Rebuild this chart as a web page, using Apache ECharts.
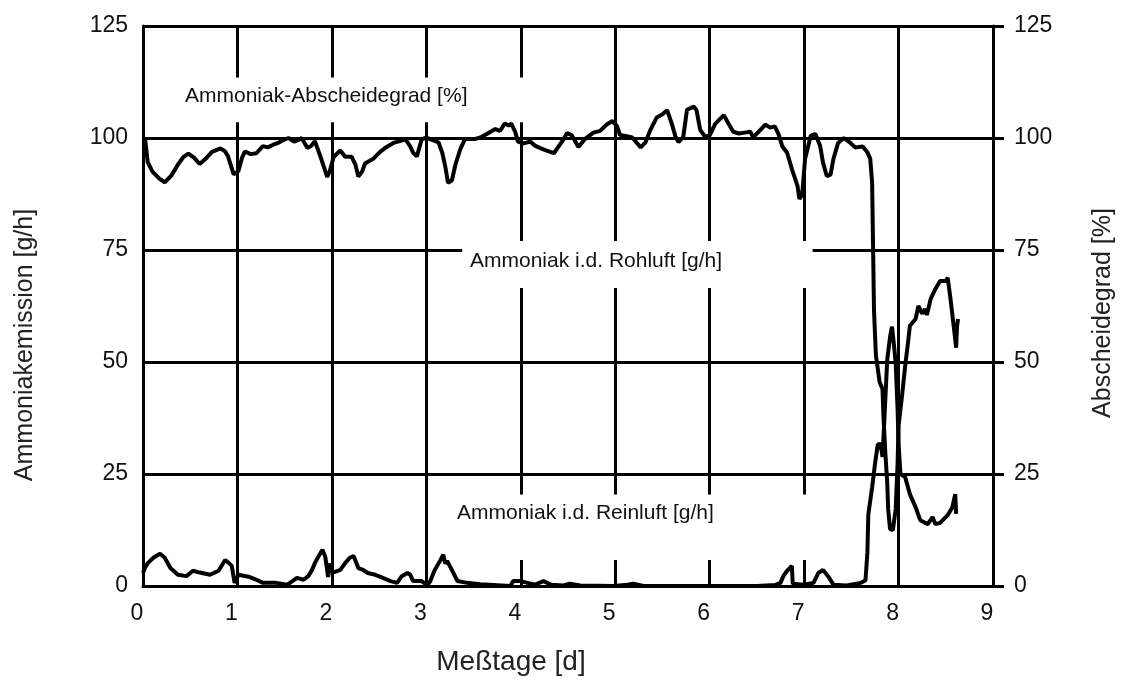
<!DOCTYPE html>
<html>
<head>
<meta charset="utf-8">
<title>Ammoniakemission und Abscheidegrad</title>
<script src="https://cdn.jsdelivr.net/npm/echarts@6/dist/echarts.min.js"></script>
<style>
  html, body { margin: 0; padding: 0; background: #fff; }
  #chart { width: 1125px; height: 680px; }
</style>
</head>
<body>
<div id="chart"></div>
<script>
// Tick values for both axes
const dayTicks = [0, 1, 2, 3, 4, 5, 6, 7, 8, 9];
const valueTicks = [0, 25, 50, 75, 100, 125];

// Ammoniak-Abscheidegrad [%] : [Messtag, Prozent]
const abscheidegrad = [
  [0.02,100.2],[0.05,94.6],[0.1,92.5],[0.17,91.0],[0.23,90.1],[0.3,91.6],[0.37,94.1],[0.43,95.8],
  [0.48,96.5],[0.54,95.6],[0.6,94.2],[0.66,95.3],[0.73,96.9],[0.82,97.7],[0.87,97.0],[0.9,95.9],
  [0.96,91.9],[1.01,92.6],[1.05,95.7],[1.08,97.0],[1.14,96.4],[1.2,96.6],[1.27,98.2],[1.32,97.9],
  [1.38,98.5],[1.43,98.9],[1.49,99.6],[1.54,100.0],[1.6,99.2],[1.64,99.5],[1.68,100.0],[1.74,97.8],
  [1.78,98.2],[1.82,99.3],[1.88,95.8],[1.95,91.3],[1.98,92.8],[2.02,95.8],[2.09,97.2],[2.14,95.8],
  [2.21,95.8],[2.25,94.0],[2.28,91.4],[2.32,92.5],[2.35,94.3],[2.44,95.4],[2.51,96.9],[2.58,98.0],
  [2.65,98.9],[2.72,99.3],[2.78,99.7],[2.83,98.1],[2.86,96.7],[2.9,95.9],[2.95,99.7],[3.0,100.1],
  [3.06,99.6],[3.13,99.0],[3.17,96.6],[3.2,93.7],[3.23,90.0],[3.27,90.5],[3.31,94.2],[3.36,97.5],
  [3.41,99.8],[3.52,99.8],[3.58,100.2],[3.64,100.9],[3.73,102.0],[3.78,101.6],[3.83,103.2],[3.87,102.8],
  [3.9,103.2],[3.94,101.4],[3.97,99.2],[4.03,98.8],[4.1,99.2],[4.15,98.3],[4.2,97.8],[4.26,97.3],
  [4.35,96.6],[4.44,99.3],[4.49,101.1],[4.54,100.6],[4.61,98.0],[4.68,99.8],[4.77,101.2],[4.84,101.6],
  [4.91,103.0],[4.97,103.8],[5.02,102.6],[5.05,100.7],[5.12,100.4],[5.18,100.1],[5.27,97.9],[5.32,99.0],
  [5.37,101.7],[5.44,104.6],[5.5,105.3],[5.55,106.2],[5.6,103.1],[5.64,100.2],[5.67,99.1],[5.72,100.2],
  [5.76,106.3],[5.83,107.0],[5.86,106.3],[5.9,101.8],[5.95,100.3],[6.0,100.6],[6.06,103.2],[6.15,105.1],
  [6.2,103.2],[6.25,101.4],[6.31,101.0],[6.37,101.2],[6.43,101.4],[6.46,100.2],[6.52,101.4],[6.59,103.0],
  [6.64,102.3],[6.69,102.6],[6.73,100.8],[6.77,98.1],[6.82,96.7],[6.87,93.1],[6.93,89.3],[6.95,86.4],
  [6.98,87.4],[7.01,95.3],[7.07,100.5],[7.12,100.9],[7.17,98.2],[7.2,94.5],[7.24,91.5],[7.28,91.8],
  [7.31,95.3],[7.36,98.9],[7.42,100.0],[7.49,98.9],[7.54,97.9],[7.62,98.1],[7.67,96.8],[7.7,95.4],
  [7.72,90.1],[7.73,76.0],[7.74,61.5],[7.76,51.5],[7.8,45.5],[7.83,44.0],[7.84,37.9],[7.86,29.7],
  [7.88,23.0],[7.89,17.2],[7.91,12.7],[7.94,12.5],[7.97,17.2],[7.99,27.5],[8.0,35.7],[8.04,43.1],
  [8.07,49.1],[8.1,54.3],[8.12,58.1],[8.18,59.6],[8.21,62.5],[8.25,60.8],[8.28,61.8],[8.3,60.5],
  [8.34,64.1],[8.39,66.3],[8.44,68.1],[8.5,68.1],[8.52,68.8],[8.55,64.1],[8.58,58.7],[8.61,53.2],
  [8.62,58.1],[8.63,59.6]
];

// Ammoniak i.d. Reinluft [g/h] : [Messtag, g/h]
const reinluft = [
  [0.0,2.9],[0.02,4.0],[0.05,5.1],[0.11,6.3],[0.18,7.2],[0.23,6.3],[0.29,4.0],[0.37,2.5],[0.46,2.2],
  [0.53,3.4],[0.6,3.0],[0.71,2.5],[0.8,3.4],[0.87,5.8],[0.9,5.3],[0.94,4.5],[0.97,0.7],[1.01,2.5],
  [1.13,2.0],[1.19,1.5],[1.27,0.7],[1.41,0.7],[1.53,0.3],[1.63,1.8],[1.7,1.4],[1.75,2.2],[1.79,3.6],
  [1.82,5.1],[1.85,6.3],[1.9,8.1],[1.93,6.5],[1.95,3.6],[1.96,2.0],[1.98,5.0],[2.01,3.0],[2.09,3.6],
  [2.14,5.1],[2.19,6.3],[2.23,6.7],[2.28,4.0],[2.33,3.6],[2.38,2.9],[2.46,2.5],[2.54,1.8],[2.62,1.1],
  [2.69,0.7],[2.74,2.2],[2.8,2.9],[2.83,2.5],[2.86,1.1],[2.95,1.1],[3.01,0.2],[3.04,1.0],[3.09,3.6],
  [3.15,5.8],[3.18,7.0],[3.2,5.0],[3.22,5.6],[3.27,3.6],[3.33,1.1],[3.43,0.7],[3.57,0.4],[3.89,0.0],
  [3.92,1.1],[4.0,1.1],[4.07,0.7],[4.15,0.3],[4.24,1.1],[4.32,0.3],[4.45,0.1],[4.52,0.5],[4.63,0.1],
  [4.98,0.0],[5.13,0.3],[5.19,0.5],[5.3,0.0],[5.87,0.0],[6.5,0.0],[6.69,0.2],[6.75,0.7],[6.78,2.2],
  [6.82,3.4],[6.87,4.5],[6.88,0.5],[6.99,0.3],[7.1,0.7],[7.15,2.9],[7.2,3.6],[7.26,2.0],[7.31,0.3],
  [7.45,0.1],[7.6,0.7],[7.65,1.3],[7.67,7.5],[7.68,16.0],[7.72,22.0],[7.75,27.2],[7.78,31.6],
  [7.81,31.7],[7.83,28.8],[7.85,37.3],[7.88,50.5],[7.91,55.6],[7.93,57.9],[7.95,54.1],[7.97,49.6],
  [7.99,39.3],[8.0,31.7],[8.02,25.0],[8.07,24.3],[8.12,20.5],[8.18,17.6],[8.23,14.7],[8.31,13.8],
  [8.36,15.4],[8.39,13.8],[8.44,14.1],[8.52,15.8],[8.57,17.6],[8.6,20.5],[8.61,16.1]
];

// Grid lines are interrupted behind the three curve captions
const capTop = [103.5, 113.5];   // behind "Ammoniak-Abscheidegrad [%]"
const capRoh = [66.5, 77];       // behind "Ammoniak i.d. Rohluft [g/h]"
const capRein = [5.8, 20.4];     // behind "Ammoniak i.d. Reinluft [g/h]"
const verticalGaps = {
  1: [capTop], 2: [capTop], 3: [capTop],
  4: [capRein, capRoh, capTop],
  5: [capRein, capRoh], 6: [capRein, capRoh], 7: [capRein, capRoh],
  8: []
};
const yMax = valueTicks[valueTicks.length - 1];
const xMax = dayTicks[dayTicks.length - 1];

const gridSegments = [];
Object.keys(verticalGaps).forEach(function (k) {
  const d = Number(k);
  let from = 0;
  verticalGaps[k].forEach(function (g) {
    gridSegments.push({ coords: [[d, from], [d, g[0]]] });
    from = g[1];
  });
  gridSegments.push({ coords: [[d, from], [d, yMax]] });
});
[25, 50, 100, 125].forEach(function (v) {
  gridSegments.push({ coords: [[0, v], [xMax, v]] });
});
// 75 line leaves room for the raw-air caption
gridSegments.push({ coords: [[0, 75], [3.38, 75]] });
gridSegments.push({ coords: [[7.09, 75], [xMax, 75]] });

const FONT = '"Liberation Sans", Arial, Helvetica, sans-serif';
const chart = echarts.init(document.getElementById('chart'), null, { renderer: 'canvas' });

chart.setOption({
  backgroundColor: '#ffffff',
  animation: false,
  grid: { left: 143, right: 132, top: 26, bottom: 94 },
  xAxis: {
    type: 'value', min: 0, max: xMax, interval: 1,
    axisLine: { show: true, lineStyle: { color: '#000', width: 3 } },
    axisTick: { show: false },
    splitLine: { show: false },
    axisLabel: { color: '#111', fontSize: 23, fontFamily: FONT, margin: 16, padding: [0, 12, 0, 0] }
  },
  yAxis: [
    {
      type: 'value', position: 'left', min: 0, max: yMax, interval: 25,
      axisLine: { show: true, lineStyle: { color: '#000', width: 3 } },
      axisTick: { show: false },
      splitLine: { show: false },
      axisLabel: { color: '#111', fontSize: 23, fontFamily: FONT, margin: 15 }
    },
    {
      type: 'value', position: 'right', min: 0, max: yMax, interval: 25,
      axisLine: { show: true, lineStyle: { color: '#000', width: 3 } },
      axisTick: { show: true, inside: false, length: 11, lineStyle: { color: '#000', width: 3 } },
      splitLine: { show: false },
      axisLabel: { color: '#111', fontSize: 23, fontFamily: FONT, margin: 21 }
    }
  ],
  graphic: [
    { type: 'text', left: 185, top: 86, silent: true,
      style: { text: 'Ammoniak-Abscheidegrad [%]', font: '21px ' + FONT, fill: '#111' } },
    { type: 'text', left: 470, top: 251, silent: true,
      style: { text: 'Ammoniak i.d. Rohluft [g/h]', font: '21px ' + FONT, fill: '#111' } },
    { type: 'text', left: 457, top: 503, silent: true,
      style: { text: 'Ammoniak i.d. Reinluft [g/h]', font: '21px ' + FONT, fill: '#111' } },
    { type: 'text', x: 25, y: 345, rotation: Math.PI / 2, silent: true,
      style: { text: 'Ammoniakemission [g/h]', font: '25px ' + FONT, fill: '#222',
               textAlign: 'center', textVerticalAlign: 'middle' } },
    { type: 'text', x: 1103, y: 313, rotation: Math.PI / 2, silent: true,
      style: { text: 'Abscheidegrad [%]', font: '25px ' + FONT, fill: '#222',
               textAlign: 'center', textVerticalAlign: 'middle' } },
    { type: 'text', x: 511, y: 662, silent: true,
      style: { text: 'Meßtage [d]', font: '28px ' + FONT, fill: '#222',
               textAlign: 'center', textVerticalAlign: 'middle' } }
  ],
  series: [
    {
      name: 'Gitter',
      type: 'lines',
      coordinateSystem: 'cartesian2d',
      xAxisIndex: 0, yAxisIndex: 0,
      silent: true,
      z: 1,
      lineStyle: { color: '#000', width: 3, opacity: 1, type: 'solid' },
      data: gridSegments
    },
    {
      name: 'Ammoniak-Abscheidegrad [%]',
      type: 'line',
      xAxisIndex: 0, yAxisIndex: 1,
      showSymbol: false, smooth: false, z: 3,
      lineStyle: { color: '#000', width: 4 },
      data: abscheidegrad
    },
    {
      name: 'Ammoniak i.d. Reinluft [g/h]',
      type: 'line',
      xAxisIndex: 0, yAxisIndex: 0,
      showSymbol: false, smooth: false, z: 3,
      lineStyle: { color: '#000', width: 4 },
      data: reinluft
    }
  ]
});
</script>
</body>
</html>
